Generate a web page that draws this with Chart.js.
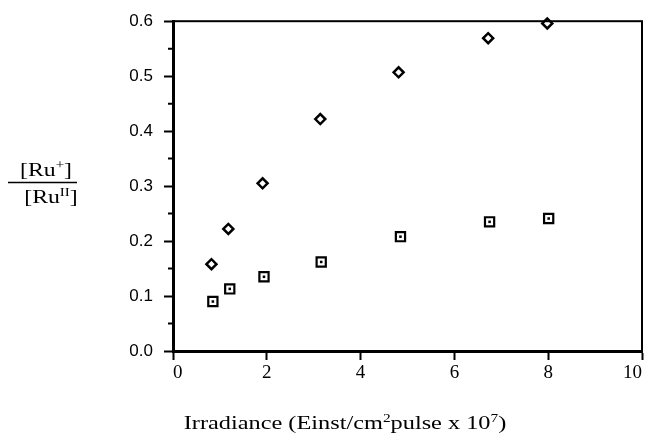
<!DOCTYPE html>
<html lang="en">
<head>
    <meta charset="UTF-8">
    <title>Ru+ / RuII vs irradiance</title>
    <script src="https://cdn.jsdelivr.net/npm/chart.js"></script>
    <style>
        body { margin: 0; background: #fff; }
        .wrap { width: 646px; height: 437px; position: relative; }
    </style>
</head>
<body>
    <div class="wrap"><canvas id="chart"></canvas></div>

    <script>
        // values
        const diamondX = [0.82, 1.18, 1.91, 3.14, 4.81, 6.72, 7.98];
        const diamondY = [0.158, 0.222, 0.305, 0.422, 0.507, 0.569, 0.596];
        const squareX = [0.85, 1.21, 1.94, 3.16, 4.85, 6.75, 8.01];
        const squareY = [0.090, 0.113, 0.135, 0.162, 0.208, 0.235, 0.241];

        const xTicks = [0, 2, 4, 6, 8, 10];
        const yTicks = [0.0, 0.1, 0.2, 0.3, 0.4, 0.5, 0.6];
        const yMinorTicks = [0.05, 0.15, 0.25, 0.35, 0.45, 0.55];

        const toPoints = (xs, ys) => xs.map((x, i) => ({ x: x, y: ys[i] }));

        // text with superscript pieces; the scan is a bit wide so text gets stretched
        function drawRich(ctx, parts, x, y, font, supFont, stretch) {
            let w = 0;
            parts.forEach(p => {
                ctx.font = p.sup ? supFont : font;
                w += ctx.measureText(p.t).width;
            });
            ctx.save();
            ctx.translate(x, y);
            ctx.scale(stretch, 1);
            let cx = -w / 2;
            parts.forEach(p => {
                ctx.font = p.sup ? supFont : font;
                ctx.fillText(p.t, cx, p.sup ? -7 : 0);
                cx += ctx.measureText(p.t).width;
            });
            ctx.restore();
        }

        const framePlugin = {
            id: 'frame',
            afterDraw(chart) {
                const ctx = chart.ctx;
                const a = chart.chartArea;
                const ys = chart.scales.y;
                ctx.save();
                ctx.strokeStyle = '#000';
                ctx.lineWidth = 2;
                ctx.strokeRect(a.left, a.top, a.right - a.left, a.bottom - a.top);

                // minor ticks on the left axis
                ctx.beginPath();
                yMinorTicks.forEach(v => {
                    const py = ys.getPixelForValue(v);
                    ctx.moveTo(a.left - 5, py);
                    ctx.lineTo(a.left, py);
                });
                ctx.stroke();

                // y title as a fraction
                ctx.fillStyle = '#000';
                ctx.textBaseline = 'alphabetic';
                const f = '19px "Liberation Serif", "Times New Roman", serif';
                const fs = '12px "Liberation Serif", "Times New Roman", serif';
                drawRich(ctx, [{ t: '[Ru' }, { t: '+', sup: true }, { t: ']' }], 46, 176, f, fs, 1.25);
                ctx.beginPath();
                ctx.lineWidth = 1.5;
                ctx.moveTo(8, 182.5);
                ctx.lineTo(77, 182.5);
                ctx.stroke();
                drawRich(ctx, [{ t: '[Ru' }, { t: 'II', sup: true }, { t: ']' }], 51, 203, f, fs, 1.25);

                // x title
                drawRich(ctx, [
                    { t: 'Irradiance (Einst/cm' }, { t: '2', sup: true },
                    { t: 'pulse x 10' }, { t: '7', sup: true }, { t: ')' }
                ], 345, 429, f, fs, 1.28);
                ctx.restore();
            }
        };

        const config = {
            type: 'scatter',
            data: {
                datasets: [
                    {
                        label: 'diamonds',
                        data: toPoints(diamondX, diamondY),
                        pointStyle: 'rectRot',
                        pointRadius: 5,
                        borderWidth: 2.5,
                        borderColor: '#000',
                        backgroundColor: '#fff',
                        clip: false
                    },
                    {
                        label: 'squares',
                        data: toPoints(squareX, squareY),
                        pointStyle: 'rect',
                        pointRadius: 6.5,
                        borderWidth: 2.2,
                        borderColor: '#000',
                        backgroundColor: '#fff',
                        clip: false
                    },
                    {
                        // little dot inside each square, drawn on top
                        label: 'square centres',
                        data: toPoints(squareX, squareY),
                        order: -1,
                        pointStyle: 'rect',
                        pointRadius: 1.8,
                        borderWidth: 0,
                        backgroundColor: '#000',
                        clip: false
                    }
                ]
            },
            options: {
                responsive: true,
                maintainAspectRatio: false,
                animation: false,
                layout: { autoPadding: false, padding: { top: 20, right: 4, left: 0, bottom: 0 } },
                plugins: {
                    legend: { display: false },
                    tooltip: { enabled: false }
                },
                scales: {
                    x: {
                        type: 'linear',
                        min: 0,
                        max: 10,
                        afterFit(scale) { scale.height = 86; },
                        afterBuildTicks(scale) { scale.ticks = xTicks.map(v => ({ value: v })); },
                        border: { display: true, color: '#000', width: 3 },
                        grid: { drawOnChartArea: false, drawTicks: true, tickLength: 9, tickColor: '#000', tickWidth: 2 },
                        ticks: {
                            align: 'inner',
                            padding: 2,
                            color: '#000',
                            font: { family: '"Liberation Serif", "Times New Roman", serif', size: 19 }
                        }
                    },
                    y: {
                        min: 0,
                        max: 0.6,
                        afterFit(scale) { scale.width = 173; },
                        afterBuildTicks(scale) { scale.ticks = yTicks.map(v => ({ value: v })); },
                        border: { display: true, color: '#000', width: 3 },
                        grid: { drawOnChartArea: false, drawTicks: true, tickLength: 9, tickColor: '#000', tickWidth: 2 },
                        ticks: {
                            padding: 11,
                            color: '#000',
                            font: { family: '"Liberation Sans", Arial, sans-serif', size: 17 },
                            callback: v => v.toFixed(1)
                        }
                    }
                }
            },
            plugins: [framePlugin]
        };

        new Chart(document.getElementById('chart'), config);
    </script>
</body>
</html>
